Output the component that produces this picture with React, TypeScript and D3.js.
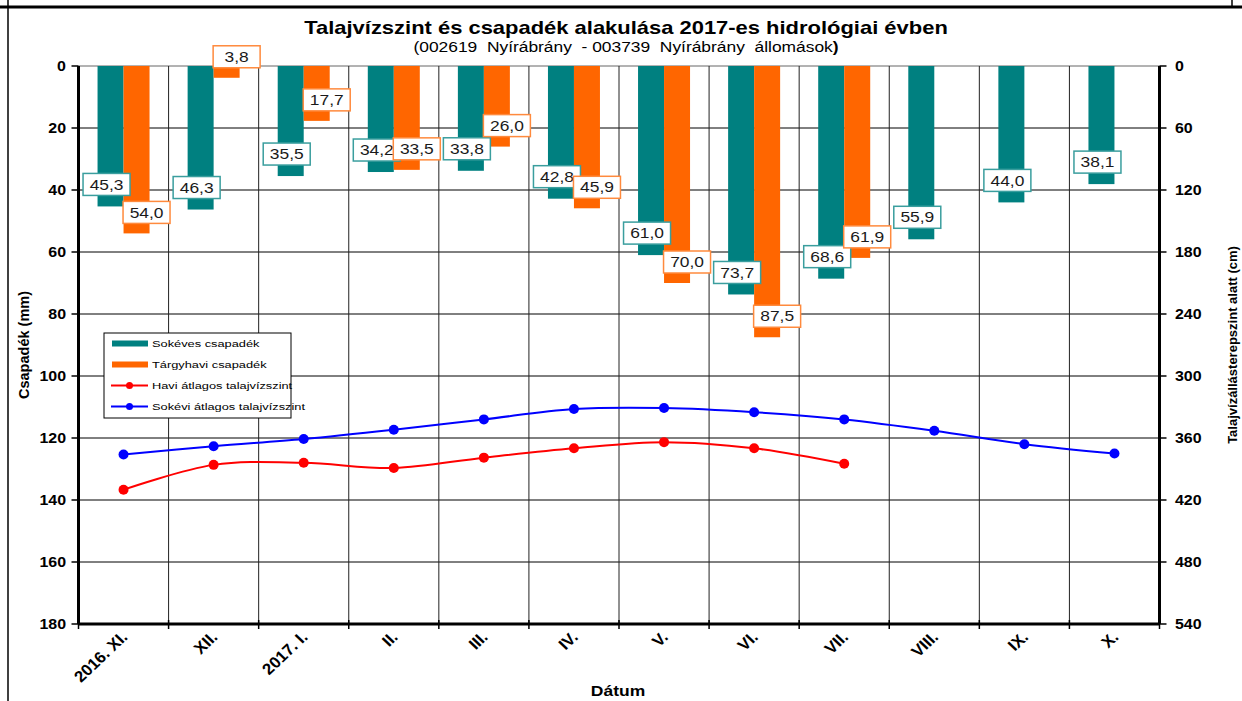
import React from "react";
import * as d3 from "d3";

const categories = ["2016. XI.", "XII.", "2017. I.", "II.", "III.", "IV.", "V.", "VI.", "VII.", "VIII.", "IX.", "X."];
const longTermPrecip = [45.3, 46.3, 35.5, 34.2, 33.8, 42.8, 61.0, 73.7, 68.6, 55.9, 44.0, 38.1];
const monthlyPrecip: (number | null)[] = [54.0, 3.8, 17.7, 33.5, 26.0, 45.9, 70.0, 87.5, 61.9, null, null, null];
const monthlyGroundwater: (number | null)[] = [410, 386, 384, 389, 379, 370, 364, 370, 385, null, null, null];
const longTermGroundwater = [376, 368, 361, 352, 342, 332, 331, 335, 342, 353, 366, 375];
const leftTicks = [0, 20, 40, 60, 80, 100, 120, 140, 160, 180];
const rightTicks = [0, 60, 120, 180, 240, 300, 360, 420, 480, 540];

const TEAL = "#008080";
const ORANGE = "#FF6600";
const FONT = "'Liberation Sans', Arial, sans-serif";

type STextProps = {
  x: number;
  y: number;
  sx?: number;
  rotate?: number;
  anchor?: "start" | "middle" | "end";
  size: number;
  bold?: boolean;
  fill?: string;
  children: React.ReactNode;
};

function SText({ x, y, sx = 1, rotate = 0, anchor = "start", size, bold, fill = "#000", children }: STextProps) {
  return (
    <text
      transform={`translate(${x},${y}) scale(${sx},1)${rotate ? ` rotate(${rotate})` : ""}`}
      textAnchor={anchor}
      fontSize={size}
      fontWeight={bold ? "bold" : "normal"}
      fill={fill}
      fontFamily={FONT}
      style={{ whiteSpace: "pre" }}
    >
      {children}
    </text>
  );
}

export default function App() {
  const W = 1242, H = 701;
  const left = 78.5, right = 1159.5, top = 66, bottom = 624;
  const x = d3.scaleBand<string>().domain(categories).range([left, right]).padding(0);
  const yL = d3.scaleLinear().domain([0, 180]).range([top, bottom]);
  const yR = d3.scaleLinear().domain([0, 540]).range([top, bottom]);
  const bw = 26;
  const cx = (i: number) => (x(categories[i]) as number) + x.bandwidth() / 2;
  const fmt = (v: number) => d3.format(".1f")(v).replace(".", ",");

  const line = d3
    .line<[number, number]>()
    .x((d) => d[0])
    .y((d) => d[1])
    .curve(d3.curveCatmullRom.alpha(0.5));

  const bluePts: [number, number][] = longTermGroundwater.map((v, i) => [cx(i), yR(v)]);
  const redPts: [number, number][] = monthlyGroundwater
    .map((v, i) => (v == null ? null : ([cx(i), yR(v)] as [number, number])))
    .filter((d): d is [number, number] => d != null);

  const boundaries = d3.range(categories.length + 1).map((i) => left + i * x.bandwidth());

  const labelBox = (key: string, px: number, py: number, text: string, stroke: string) => (
    <g key={key}>
      <rect x={px - 23.5} y={py - 11} width={47} height={22} fill="#fff" stroke={stroke} strokeWidth={1.5} />
      <SText x={px} y={py + 5.2} sx={1.2} anchor="middle" size={14.5} fill="#1a1a1a">
        {text}
      </SText>
    </g>
  );

  return (
    <svg width={W} height={H} style={{ position: "absolute", left: 0, top: 0, background: "#fff" }} fontFamily={FONT}>
      <rect x={0} y={0} width={W} height={H} fill="#fff" />
      {/* outer frame */}
      <line x1={0} x2={W} y1={7} y2={7} stroke="#000" strokeWidth={3} />
      <line x1={8} x2={8} y1={0} y2={H} stroke="#000" strokeWidth={1.5} />
      <line x1={1232} x2={1232} y1={0} y2={7} stroke="#000" strokeWidth={1.5} />

      {/* title */}
      <SText x={626} y={34} sx={1.22} anchor="middle" size={18} bold>
        Talajvízszint és csapadék alakulása 2017-es hidrológiai évben
      </SText>
      <SText x={626} y={52} sx={1.2} anchor="middle" size={14.5}>
        {"(002619  Nyírábrány  - 003739  Nyírábrány  állomások"}
        <tspan fontWeight="bold">)</tspan>
      </SText>

      {/* horizontal gridlines */}
      {leftTicks.map((t) => (
        <line key={"hg" + t} x1={left} x2={right} y1={yL(t)} y2={yL(t)} stroke={t === 0 ? "#666" : "#000"} strokeWidth={1} />
      ))}
      {/* vertical gridlines */}
      {boundaries.slice(1, -1).map((b, i) => (
        <line key={"vg" + i} x1={b} x2={b} y1={top} y2={bottom} stroke="#222" strokeWidth={1} />
      ))}

      {/* bars */}
      {longTermPrecip.map((v, i) => (
        <rect key={"tb" + i} x={cx(i) - bw} y={yL(0)} width={bw} height={yL(v) - yL(0)} fill={TEAL} />
      ))}
      {monthlyPrecip.map((v, i) =>
        v == null ? null : <rect key={"ob" + i} x={cx(i)} y={yL(0)} width={bw} height={yL(v) - yL(0)} fill={ORANGE} />
      )}

      {/* lines */}
      <path d={line(bluePts) || ""} fill="none" stroke="#0000FF" strokeWidth={2} />
      <path d={line(redPts) || ""} fill="none" stroke="#FF0000" strokeWidth={2} />
      {bluePts.map((p, i) => (
        <circle key={"bp" + i} cx={p[0]} cy={p[1]} r={5} fill="#0000FF" />
      ))}
      {redPts.map((p, i) => (
        <circle key={"rp" + i} cx={p[0]} cy={p[1]} r={5} fill="#FF0000" />
      ))}

      {/* bar labels */}
      {longTermPrecip.map((v, i) => labelBox("tl" + i, cx(i) - bw / 2 - 4, yL(v) - 22, fmt(v), "#3a9e9e"))}
      {monthlyPrecip.map((v, i) =>
        v == null ? null : labelBox("ol" + i, cx(i) + bw / 2 + 10, yL(v) - 21, fmt(v), "#FF8A3D")
      )}

      {/* axes */}
      <line x1={left} x2={left} y1={top} y2={bottom} stroke="#000" strokeWidth={3} />
      <line x1={right} x2={right} y1={top} y2={bottom} stroke="#000" strokeWidth={3} />
      <line x1={left} x2={right} y1={bottom} y2={bottom} stroke="#000" strokeWidth={3} />
      {leftTicks.map((t) => (
        <g key={"lt" + t}>
          <line x1={left - 7} x2={left} y1={yL(t)} y2={yL(t)} stroke="#000" strokeWidth={1.5} />
          <SText x={66} y={yL(t) + 5.3} sx={1.1} anchor="end" size={14.5} bold>
            {t}
          </SText>
        </g>
      ))}
      {rightTicks.map((t) => (
        <g key={"rt" + t}>
          <line x1={right} x2={right + 7} y1={yR(t)} y2={yR(t)} stroke="#000" strokeWidth={1.5} />
          <SText x={1175} y={yR(t) + 5.3} sx={1.1} anchor="start" size={14.5} bold>
            {t}
          </SText>
        </g>
      ))}
      {boundaries.map((b, i) => (
        <line key={"bt" + i} x1={b} x2={b} y1={bottom - 4} y2={bottom + 5} stroke="#000" strokeWidth={1.5} />
      ))}
      {categories.map((c, i) => (
        <SText key={"cl" + i} x={cx(i) + 5} y={bottom + 14} sx={1.05} rotate={-45} anchor="end" size={16} bold>
          {c}
        </SText>
      ))}

      {/* axis titles */}
      <text transform={`translate(29,${(top + bottom) / 2}) rotate(-90)`} textAnchor="middle" fontSize={14.5} fontWeight="bold">
        Csapadék (mm)
      </text>
      <text transform={`translate(1237,${(top + bottom) / 2}) rotate(-90)`} textAnchor="middle" fontSize={13} fontWeight="bold">
        Talajvízállásterepszint alatt (cm)
      </text>
      <SText x={618} y={696} sx={1.25} anchor="middle" size={14} bold>
        Dátum
      </SText>

      {/* legend */}
      <g>
        <rect x={104} y={333} width={187} height={85} fill="#fff" stroke="#000" strokeWidth={1} />
        {[
          { label: "Sokéves csapadék", color: TEAL, kind: "bar" },
          { label: "Tárgyhavi csapadék", color: ORANGE, kind: "bar" },
          { label: "Havi átlagos talajvízszint", color: "#FF0000", kind: "line" },
          { label: "Sokévi átlagos talajvízszint", color: "#0000FF", kind: "line" },
        ].map((e, i) => {
          const ly = 343.5 + i * 21;
          return (
            <g key={"lg" + i}>
              {e.kind === "bar" ? (
                <rect x={112} y={ly - 3} width={36} height={6} fill={e.color} />
              ) : (
                <g>
                  <line x1={111} x2={148} y1={ly} y2={ly} stroke={e.color} strokeWidth={2} />
                  <circle cx={129.5} cy={ly} r={3.5} fill={e.color} />
                </g>
              )}
              <SText x={152} y={ly + 3.5} sx={1.35} size={9.5}>
                {e.label}
              </SText>
            </g>
          );
        })}
      </g>
    </svg>
  );
}
